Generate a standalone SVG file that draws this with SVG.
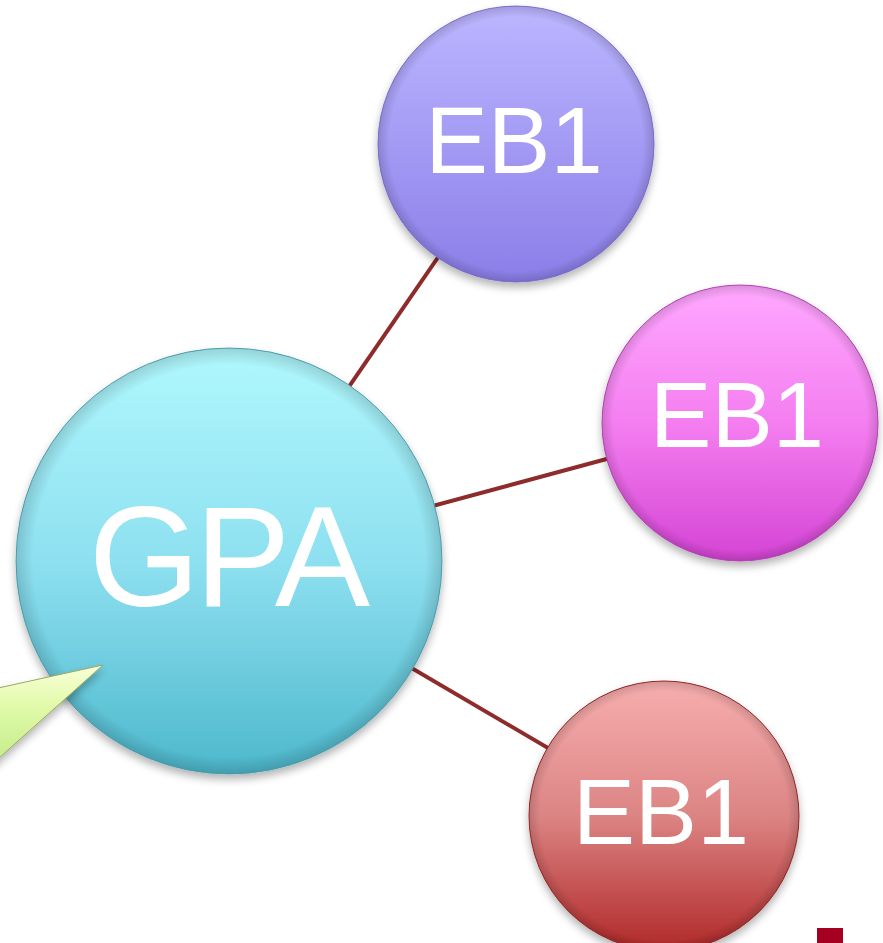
<svg xmlns="http://www.w3.org/2000/svg" width="883" height="943" viewBox="0 0 883 943">
<defs>
<linearGradient id="gCyan" x1="0" y1="0" x2="0" y2="1"><stop offset="0" stop-color="#B0F8FD"/><stop offset="0.5" stop-color="#8EE0F0"/><stop offset="1" stop-color="#4DB8CC"/></linearGradient>
<linearGradient id="gPurple" x1="0" y1="0" x2="0" y2="1"><stop offset="0" stop-color="#BCB6FF"/><stop offset="1" stop-color="#8B7EE8"/></linearGradient>
<linearGradient id="gPink" x1="0" y1="0" x2="0" y2="1"><stop offset="0" stop-color="#FFA8FF"/><stop offset="0.5" stop-color="#F47EF0"/><stop offset="1" stop-color="#D444D4"/></linearGradient>
<linearGradient id="gRed" x1="0" y1="0" x2="0" y2="1"><stop offset="0" stop-color="#F7AEAE"/><stop offset="0.5" stop-color="#DC8484"/><stop offset="1" stop-color="#B02828"/></linearGradient>
<linearGradient id="gGreen" x1="0" y1="0" x2="0" y2="1"><stop offset="0" stop-color="#FAFFD8"/><stop offset="0.4" stop-color="#E0FAA8"/><stop offset="1" stop-color="#BDE884"/></linearGradient>
<radialGradient id="bevel" cx="0.5" cy="0.5" r="0.5"><stop offset="0.92" stop-color="#000" stop-opacity="0"/><stop offset="1" stop-color="#000" stop-opacity="0.15"/></radialGradient>
<filter id="shadow" x="-10%" y="-10%" width="120%" height="125%"><feGaussianBlur in="SourceAlpha" stdDeviation="4"/><feOffset dx="0" dy="5" result="b"/><feComponentTransfer><feFuncA type="linear" slope="0.3"/></feComponentTransfer><feMerge><feMergeNode/><feMergeNode in="SourceGraphic"/></feMerge></filter>
</defs>
<style>
.lbl{font-family:"Liberation Sans",Arial,sans-serif;fill:#fff;text-anchor:middle}
.conn{stroke:#8E2B2B;stroke-width:4;fill:none}
.rim{fill:url(#bevel)}
</style>
<rect width="883" height="943" fill="#fff"/>
<g id="connectors">
<line class="conn" x1="229" y1="561" x2="516" y2="144"/>
<line class="conn" x1="229" y1="561" x2="740" y2="423"/>
<line class="conn" x1="229" y1="561" x2="664" y2="816"/>
</g>
<g id="node-gpa" filter="url(#shadow)">
<circle cx="229" cy="561" r="213" fill="url(#gCyan)" stroke="#55AFC0" stroke-width="1"/>
<circle class="rim" cx="229" cy="561" r="213"/>
<text class="lbl" x="227" y="606" font-size="143" letter-spacing="-5">GPA</text>
</g>
<g id="node-eb1-top" filter="url(#shadow)">
<circle cx="516" cy="144" r="138" fill="url(#gPurple)" stroke="#8476DE" stroke-width="1"/>
<circle class="rim" cx="516" cy="144" r="138"/>
<text class="lbl" x="514" y="173" font-size="94">EB1</text>
</g>
<g id="node-eb1-mid" filter="url(#shadow)">
<circle cx="740" cy="423" r="138" fill="url(#gPink)" stroke="#C444C4" stroke-width="1"/>
<circle class="rim" cx="740" cy="423" r="138"/>
<text class="lbl" x="737" y="447" font-size="92">EB1</text>
</g>
<g id="node-eb1-bottom" filter="url(#shadow)">
<circle cx="664" cy="816" r="135" fill="url(#gRed)" stroke="#A02828" stroke-width="1"/>
<circle class="rim" cx="664" cy="816" r="135"/>
<text class="lbl" x="661" y="844" font-size="93">EB1</text>
</g>
<g id="callout" filter="url(#shadow)">
<polygon points="-20,692 103,665 -20,775" fill="url(#gGreen)" stroke="#9AA860" stroke-width="1"/>
</g>
<rect x="817" y="928" width="26" height="15" fill="#A50021"/>
</svg>
